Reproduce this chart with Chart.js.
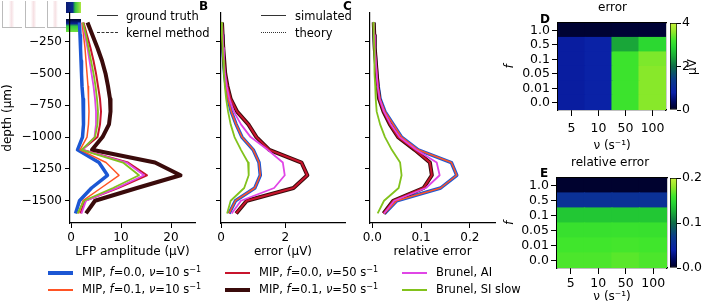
<!DOCTYPE html>
<html>
<head>
<meta charset="utf-8">
<script src="https://cdn.jsdelivr.net/npm/chart.js@4.4.1/dist/chart.umd.min.js"></script>
<style>
  body { margin: 0; width: 710px; height: 307px; overflow: hidden; position: relative; background: #fff; font-family: 'DejaVu Sans', sans-serif; color: #000; }
  canvas { position: absolute; }
  .t { position: absolute; white-space: nowrap; font-size: 11.5px; line-height: 14px; }
  .t sup { font-size: 8px; vertical-align: 4px; line-height: 0; }
  .big { font-weight: bold; font-size: 12px; }
  .sw { position: absolute; height: 0; }
  .thumb { position: absolute; }
</style>
</head>
<body>
<!-- tiny inset thumbnails in the corner -->
<div class="thumb" style="left:2px;top:1px;width:19px;height:26px;border-left:1px solid #bbb;border-bottom:1px solid #bbb;background:linear-gradient(90deg,#fff 30%,#f6e2e5 45%,#fff 60%)"></div>
<div class="thumb" style="left:25px;top:1px;width:19px;height:26px;border-left:1px solid #bbb;border-bottom:1px solid #bbb;background:linear-gradient(90deg,#fff 25%,#f6e0e3 40%,#fff 55%)"></div>
<div class="thumb" style="left:47px;top:1px;width:18px;height:26px;border-left:1px solid #bbb;border-bottom:1px solid #bbb;background:linear-gradient(90deg,#fff 25%,#f6e0e3 40%,#fff 55%)"></div>
<div class="thumb" style="left:66px;top:2px;width:15px;height:11px;background:linear-gradient(90deg,#0a1a70 0%,#0a2a90 45%,#30c040 60%,#b0e840 100%)"></div>
<div class="thumb" style="left:66px;top:19px;width:15px;height:13px;background:linear-gradient(180deg,#000830 0%,#0a2090 35%,#30c840 55%,#70e040 100%)"></div>

<canvas id="cA" width="200" height="262" style="left:0;top:0"></canvas>
<canvas id="cB" width="145" height="262" style="left:205px;top:0"></canvas>
<canvas id="cC" width="145" height="262" style="left:355px;top:0"></canvas>
<canvas id="cD" width="170" height="155" style="left:500px;top:0"></canvas>
<canvas id="cDbar" width="45" height="130" style="left:665px;top:0"></canvas>
<canvas id="cE" width="170" height="152" style="left:500px;top:155px"></canvas>
<canvas id="cEbar" width="45" height="130" style="left:665px;top:155px"></canvas>

<div class="t big" style="left:199px;top:-1px">B</div>
<div class="t big" style="left:343px;top:-1px">C</div>
<div class="t big" style="left:540px;top:12px">D</div>
<div class="t big" style="left:540px;top:166px">E</div>
<div class="t" style="left:598px;top:0px;font-size:12px">error</div>
<div class="t" style="left:571px;top:155px;font-size:12px">relative error</div>
<div class="t" style="left:684px;top:60px;font-size:12px;transform:rotate(-90deg);transform-origin:center">µV</div>

<div class="sw" style="left:97px;top:15px;width:21px;border-top:1.5px solid #333"></div>
<div class="t" style="left:126px;top:9px">ground truth</div>
<div class="sw" style="left:97px;top:32px;width:21px;border-top:1.5px dashed #333"></div>
<div class="t" style="left:126px;top:26px">kernel method</div>
<div class="sw" style="left:261px;top:15px;width:25px;border-top:1.5px solid #333"></div>
<div class="t" style="left:295px;top:9px">simulated</div>
<div class="sw" style="left:261px;top:32px;width:25px;border-top:1.5px dotted #333"></div>
<div class="t" style="left:295px;top:26px">theory</div>

<div id="legend"></div>

<script>
const FONT = "'DejaVu Sans', sans-serif";

// depth of each recording channel (µm)
const depths = [-100, -200, -300, -400, -500, -600, -700, -800, -900, -1000, -1100, -1200, -1300, -1400, -1500, -1600];
const depthTicks = [-250, -500, -750, -1000, -1250, -1500];

// A: LFP amplitude (µV)
const ampMip0_10 = [1.7, 1.8, 1.9, 2.0, 2.1, 2.2, 2.4, 2.5, 2.5, 2.3, 1.3, 5.6, 7.3, 4.1, 1.7, 0.9];
const ampMip1_10 = [2.2, 2.5, 2.8, 3.0, 3.2, 3.4, 3.5, 3.6, 3.5, 3.2, 1.8, 7.0, 9.6, 6.0, 2.4, 1.5];
const ampMip0_50 = [2.5, 3.2, 3.9, 4.5, 5.0, 5.4, 5.8, 6.0, 5.8, 5.3, 2.2, 11.4, 15.2, 9.4, 2.8, 1.9];
const ampMip1_50 = [3.3, 4.3, 5.3, 6.2, 6.9, 7.4, 7.8, 7.9, 7.6, 6.3, 4.2, 16.8, 21.9, 13.2, 4.8, 3.0];
const ampBrunelAI = [2.4, 2.8, 3.3, 3.7, 4.1, 4.5, 4.8, 5.0, 5.0, 4.7, 2.3, 11.1, 14.6, 9.2, 3.0, 2.1];
const ampBrunelSI = [2.4, 3.0, 3.5, 4.0, 4.5, 4.9, 5.2, 5.4, 5.3, 4.8, 2.1, 10.4, 13.6, 8.4, 2.6, 1.3];

// B: error (µV)
const errMip0_10 = [0.03, 0.04, 0.06, 0.08, 0.11, 0.16, 0.22, 0.32, 0.47, 0.65, 1.0, 1.18, 1.22, 1.05, 0.45, 0.25];
const errMip1_10 = [0.03, 0.04, 0.06, 0.08, 0.11, 0.16, 0.22, 0.32, 0.47, 0.65, 1.0, 1.18, 1.22, 1.05, 0.45, 0.25];
const errMip0_50 = [0.03, 0.05, 0.07, 0.10, 0.13, 0.2, 0.3, 0.5, 0.85, 1.1, 1.5, 2.5, 2.68, 2.25, 0.8, 0.47];
const errMip1_50 = [0.03, 0.05, 0.07, 0.10, 0.13, 0.2, 0.3, 0.5, 0.85, 1.1, 1.5, 2.5, 2.68, 2.25, 0.8, 0.47];
const errBrunelAI = [0.03, 0.05, 0.07, 0.09, 0.12, 0.18, 0.26, 0.4, 0.62, 0.92, 1.45, 1.92, 1.98, 1.65, 0.62, 0.33];
const errBrunelSI = [0.02, 0.03, 0.05, 0.07, 0.09, 0.12, 0.16, 0.22, 0.3, 0.42, 0.62, 0.84, 0.86, 0.72, 0.3, 0.19];

// C: relative error
const relMip0_10 = [0.003, 0.004, 0.005, 0.007, 0.009, 0.012, 0.016, 0.026, 0.043, 0.06, 0.094, 0.162, 0.173, 0.14, 0.05, 0.025];
const relMip1_10 = [0.003, 0.004, 0.005, 0.007, 0.009, 0.012, 0.016, 0.026, 0.043, 0.06, 0.094, 0.162, 0.173, 0.14, 0.05, 0.025];
const relMip0_50 = [0.003, 0.004, 0.005, 0.007, 0.009, 0.011, 0.014, 0.023, 0.036, 0.053, 0.087, 0.118, 0.122, 0.105, 0.043, 0.023];
const relMip1_50 = [0.003, 0.004, 0.005, 0.007, 0.009, 0.011, 0.014, 0.023, 0.036, 0.053, 0.087, 0.118, 0.122, 0.105, 0.043, 0.023];
const relBrunelAI = [0.003, 0.004, 0.005, 0.007, 0.009, 0.011, 0.015, 0.024, 0.038, 0.056, 0.09, 0.132, 0.138, 0.11, 0.045, 0.024];
const relBrunelSI = [0.002, 0.003, 0.004, 0.004, 0.005, 0.006, 0.007, 0.009, 0.016, 0.026, 0.04, 0.057, 0.06, 0.054, 0.024, 0.011];

// D / E heatmaps: rows f (top to bottom), columns nu
const nuLabels = ['5', '10', '50', '100'];
const fLabels = ['1.0', '0.5', '0.1', '0.05', '0.01', '0.0'];
const errorGrid = [
  [0.1, 0.1, 0.12, 0.12],
  [0.75, 0.85, 2.45, 2.95],
  [0.75, 0.85, 3.15, 3.5],
  [0.75, 0.85, 3.15, 3.55],
  [0.75, 0.85, 3.15, 3.55],
  [0.75, 0.85, 3.15, 3.55],
];
const relErrorGrid = [
  [0.004, 0.004, 0.004, 0.004],
  [0.058, 0.058, 0.058, 0.058],
  [0.138, 0.138, 0.138, 0.138],
  [0.155, 0.155, 0.156, 0.155],
  [0.16, 0.16, 0.161, 0.16],
  [0.163, 0.163, 0.166, 0.163],
];
const errorTicks = [0, 2, 4];
const relErrorTicks = [0, 0.1, 0.2];

const SERIES = {
  mip0_10: { label: 'MIP, <i>f</i>=0.0, <i>ν</i>=10 s<sup>−1</sup>', color: '#1c57d4', width: 3.5 },
  mip1_10: { label: 'MIP, <i>f</i>=0.1, <i>ν</i>=10 s<sup>−1</sup>', color: '#ff5424', width: 1.5 },
  mip0_50: { label: 'MIP, <i>f</i>=0.0, <i>ν</i>=50 s<sup>−1</sup>', color: '#c8142c', width: 2 },
  mip1_50: { label: 'MIP, <i>f</i>=0.1, <i>ν</i>=50 s<sup>−1</sup>', color: '#3a0b0b', width: 4 },
  brunelAI: { label: 'Brunel, AI', color: '#e046e6', width: 1.8 },
  brunelSI: { label: 'Brunel, SI slow', color: '#82c21c', width: 1.8 },
};
// first entry is drawn on top
const DRAW_ORDER = ['brunelSI', 'brunelAI', 'mip0_50', 'mip1_10', 'mip1_50', 'mip0_10'];
const LEGEND_ORDER = ['mip0_10', 'mip0_50', 'brunelAI', 'mip1_10', 'mip1_50', 'brunelSI'];

const CMAP = [[0, [0, 0, 34]], [0.1, [0, 10, 100]], [0.2, [10, 32, 168]], [0.35, [11, 60, 138]], [0.5, [14, 108, 72]],
  [0.62, [26, 170, 56]], [0.72, [38, 212, 50]], [0.8, [64, 230, 44]], [0.9, [146, 232, 42]], [1, [200, 242, 58]]];
function cmap(t) {
  t = Math.max(0, Math.min(1, t));
  for (let i = 1; i < CMAP.length; i++) {
    if (t <= CMAP[i][0]) {
      const [t0, c0] = CMAP[i - 1], [t1, c1] = CMAP[i];
      const u = (t - t0) / (t1 - t0);
      return 'rgb(' + c0.map((v, j) => Math.round(v + (c1[j] - v) * u)).join(',') + ')';
    }
  }
}

Chart.defaults.font.family = FONT;
Chart.defaults.font.size = 12;
Chart.defaults.color = '#000';
Chart.defaults.animation = false;
Chart.defaults.plugins.legend.display = false;
Chart.defaults.plugins.tooltip.enabled = false;

const tickGrid = (len) => ({ drawOnChartArea: false, drawTicks: true, tickLength: len, color: '#000', lineWidth: 1 });
const setTicks = (values) => (scale) => { scale.ticks = values.map((v) => ({ value: v })); };
const minus = (v) => String(v).replace('-', '\u2212');

function profile(id, arrays, x, yWidth, yTitle) {
  const datasets = DRAW_ORDER.map((k) => ({
    data: depths.map((d, i) => ({ x: arrays[k][i], y: d })),
    showLine: true, borderColor: SERIES[k].color, borderWidth: SERIES[k].width,
    pointRadius: 0, fill: false, tension: 0, borderJoinStyle: 'round',
  }));
  new Chart(document.getElementById(id), {
    type: 'scatter',
    data: { datasets },
    options: {
      responsive: false,
      layout: { padding: { top: 13, right: 5, left: 0, bottom: 0 } },
      scales: {
        x: {
          type: 'linear', min: x.min, max: x.max,
          afterBuildTicks: setTicks(x.ticks),
          ticks: { padding: 3, autoSkip: false, callback: x.format },
          grid: tickGrid(5), border: { color: '#000', width: 1.2 },
          title: { display: true, text: x.title, font: { size: 12 }, padding: { top: 0, bottom: 3 } },
          afterFit: (s) => { s.height = 39; },
        },
        y: {
          type: 'linear', min: -1675, max: -25,
          afterBuildTicks: setTicks(depthTicks),
          ticks: { display: !!yTitle, padding: 3, autoSkip: false, callback: minus },
          grid: tickGrid(5), border: { color: '#000', width: 1.2 },
          title: { display: !!yTitle, text: yTitle, font: { size: 12 }, padding: { top: 1, bottom: 0 } },
          afterFit: (s) => { s.width = yWidth; },
        },
      },
    },
  });
}

const ampArrays = { mip0_10: ampMip0_10, mip1_10: ampMip1_10, mip0_50: ampMip0_50, mip1_50: ampMip1_50, brunelAI: ampBrunelAI, brunelSI: ampBrunelSI };
const errArrays = { mip0_10: errMip0_10, mip1_10: errMip1_10, mip0_50: errMip0_50, mip1_50: errMip1_50, brunelAI: errBrunelAI, brunelSI: errBrunelSI };
const relArrays = { mip0_10: relMip0_10, mip1_10: relMip1_10, mip0_50: relMip0_50, mip1_50: relMip1_50, brunelAI: relBrunelAI, brunelSI: relBrunelSI };

profile('cA', ampArrays, { min: -0.2, max: 24.8, ticks: [0, 10, 20], format: (v) => String(v), title: 'LFP amplitude (µV)' }, 70, 'depth (µm)');
profile('cB', errArrays, { min: 0, max: 3.85, ticks: [0, 2], format: (v) => String(v), title: 'error (µV)' }, 16, null);
profile('cC', relArrays, { min: -0.0047, max: 0.2514, ticks: [0, 0.1, 0.2], format: (v) => v.toFixed(1), title: 'relative error' }, 15, null);

function heatmap(id, grid, vmax, xHeight, yWidth, labelPad, titlePad) {
  const rows = fLabels.length;
  const datasets = [];
  for (let r = rows - 1; r >= 0; r--) {
    datasets.push({
      data: nuLabels.map(() => 1),
      backgroundColor: grid[r].map((v) => cmap(v / vmax)),
      borderWidth: 0, barPercentage: 1, categoryPercentage: 1, inflateAmount: 0.6,
    });
  }
  const frame = { display: true, grid: { display: false }, ticks: { display: false }, border: { color: '#000', width: 1.2 } };
  new Chart(document.getElementById(id), {
    type: 'bar',
    data: { labels: nuLabels, datasets },
    options: {
      responsive: false,
      layout: { padding: { top: 23, right: 3, left: 0, bottom: 0 } },
      scales: {
        x: {
          stacked: true, offset: true,
          ticks: { padding: labelPad, maxRotation: 0, autoSkip: false, font: { size: 12.5 } },
          grid: Object.assign(tickGrid(6), { offset: false }), border: { color: '#000', width: 1.2 },
          title: { display: true, text: 'ν (s⁻¹)', font: { size: 12 }, padding: { top: 0, bottom: titlePad } },
          afterFit: (s) => { s.height = xHeight; },
        },
        y: {
          stacked: true, min: 0, max: rows,
          afterBuildTicks: setTicks(fLabels.map((_, i) => i + 0.5)),
          ticks: { padding: 2, autoSkip: false, font: { size: 12.5 }, callback: (v) => fLabels[rows - 1 - Math.floor(v)] },
          grid: tickGrid(6), border: { color: '#000', width: 1.2 },
          title: { display: true, text: 'f', font: { size: 12, style: 'italic' }, padding: { top: 3, bottom: 0 } },
          afterFit: (s) => { s.width = yWidth; },
        },
        x2: Object.assign({ type: 'category', position: 'top', afterFit: (s) => { s.height = 0; } }, frame),
        y2: Object.assign({ type: 'linear', position: 'right', min: 0, max: rows, afterFit: (s) => { s.width = 0; } }, frame),
      },
    },
  });
}

function colorbar(id, vmax, ticks, format, padBottom) {
  new Chart(document.getElementById(id), {
    type: 'bar',
    data: {
      labels: [''],
      datasets: [{
        data: [[0, vmax]],
        backgroundColor: (ctx) => {
          const area = ctx.chart.chartArea;
          if (!area) return '#000';
          const g = ctx.chart.ctx.createLinearGradient(0, area.bottom, 0, area.top);
          CMAP.forEach(([t, c]) => g.addColorStop(t, 'rgb(' + c.join(',') + ')'));
          return g;
        },
        borderColor: '#000', borderWidth: 1, borderSkipped: false,
        barPercentage: 1, categoryPercentage: 1,
      }],
    },
    options: {
      responsive: false,
      layout: { padding: { top: 23, left: 5, right: 0, bottom: padBottom } },
      scales: {
        x: { display: false },
        y: {
          position: 'right', min: 0, max: vmax,
          afterBuildTicks: setTicks(ticks),
          ticks: { padding: 1, autoSkip: false, font: { size: 12.5 }, callback: format },
          grid: tickGrid(4), border: { display: false },
          afterFit: (s) => { s.width = 33; },
        },
      },
    },
  });
}

heatmap('cD', errorGrid, 4, 45, 58, 5, 2);
colorbar('cDbar', 4, errorTicks, (v) => String(v), 20);
heatmap('cE', relErrorGrid, 0.2, 39, 57, 2.5, 3);
colorbar('cEbar', 0.2, relErrorTicks, (v) => v.toFixed(1), 17);

// bottom legend, three columns of two rows
const legend = document.getElementById('legend');
const colX = [48, 225, 402];
const rowY = [273, 290];
LEGEND_ORDER.forEach((k, i) => {
  const col = i % 3, row = Math.floor(i / 3);
  const s = SERIES[k];
  const w = Math.max(2, Math.round(s.width));
  const line = document.createElement('div');
  line.className = 'sw';
  line.style.cssText = `left:${colX[col]}px;top:${rowY[row] - w / 2}px;width:25px;border-top:${w}px solid ${s.color}`;
  legend.appendChild(line);
  const txt = document.createElement('div');
  txt.className = 't';
  txt.style.cssText = `left:${colX[col] + 34}px;top:${rowY[row] - 8}px`;
  txt.innerHTML = s.label;
  legend.appendChild(txt);
});
</script>
</body>
</html>
